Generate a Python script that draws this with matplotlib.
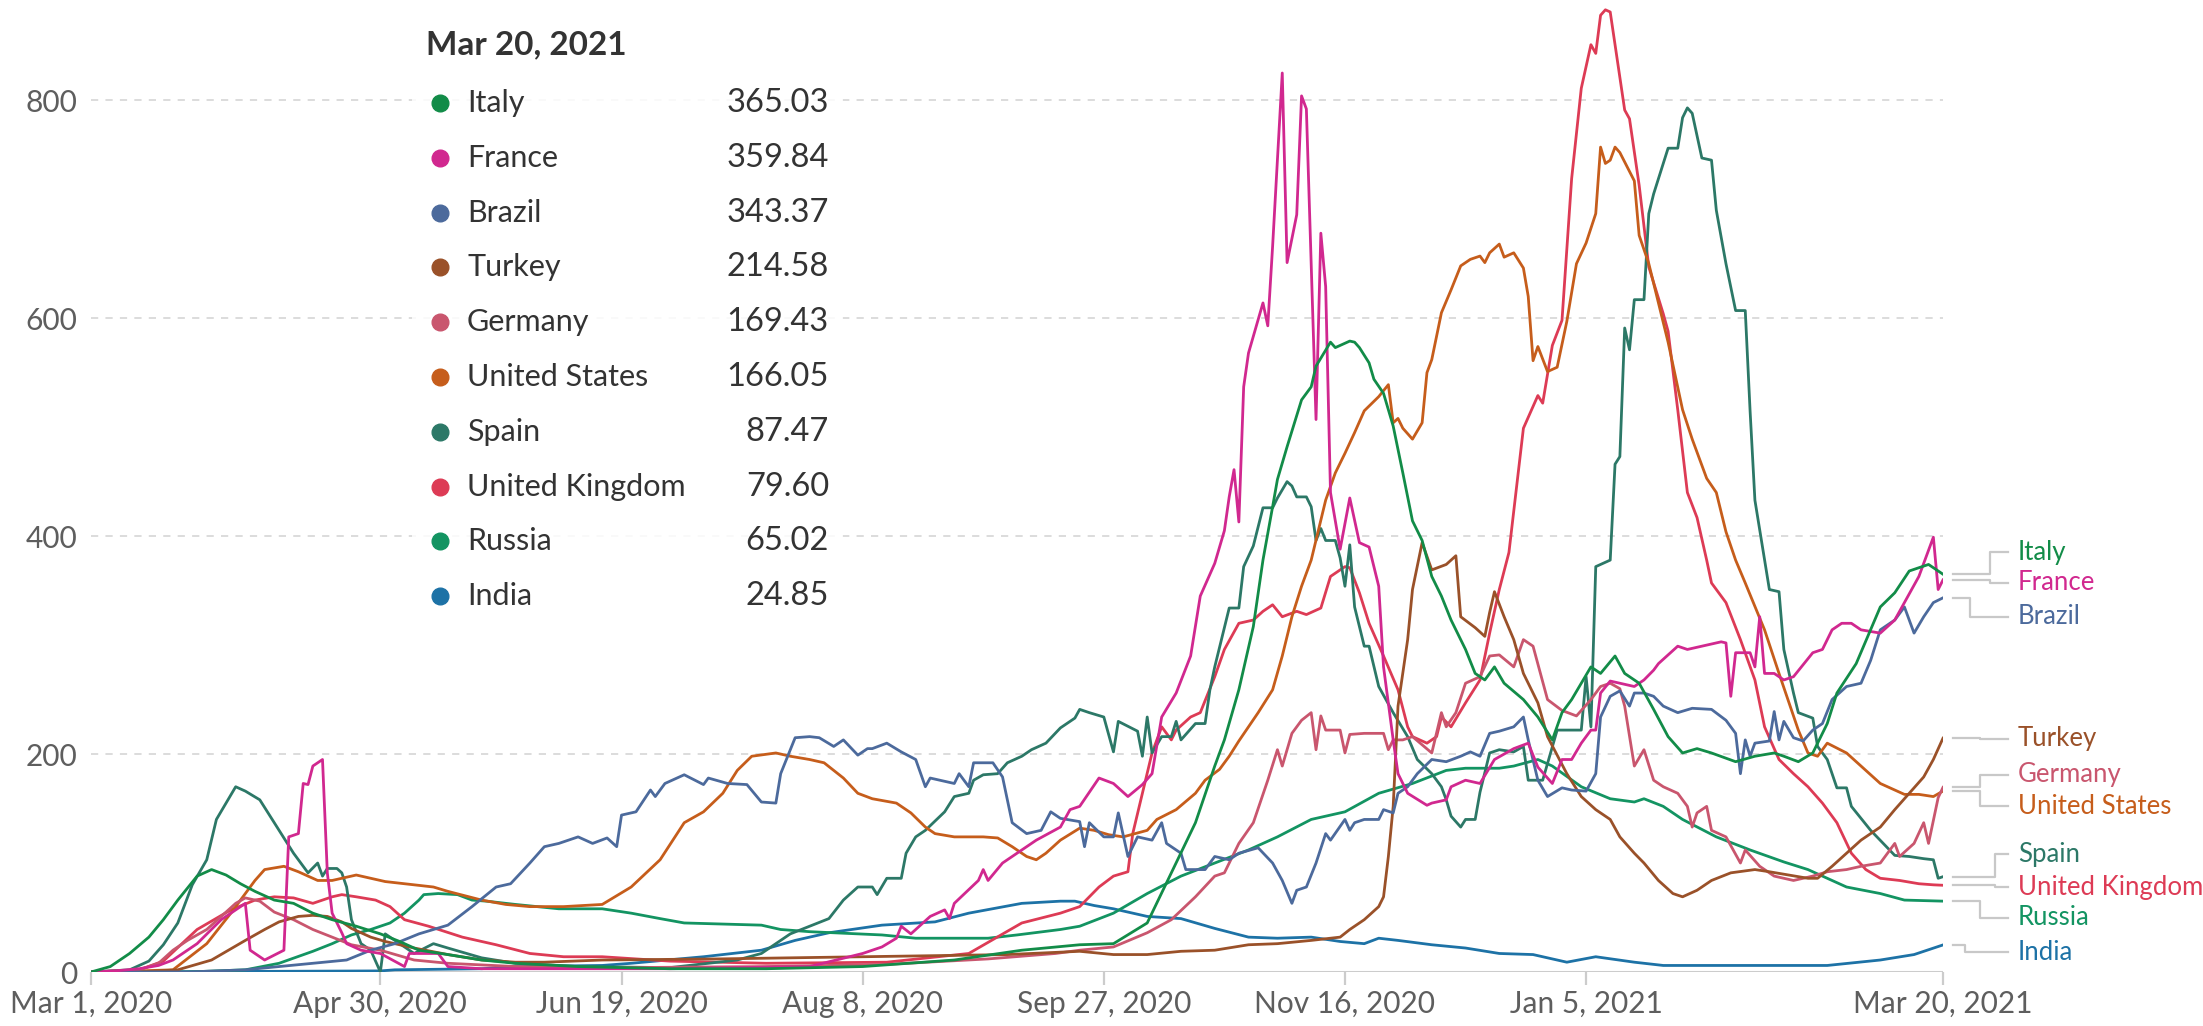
import numpy as np
import matplotlib
matplotlib.use("Agg")
import matplotlib.pyplot as plt
from matplotlib.patches import Rectangle
from matplotlib.lines import Line2D

plt.rcParams['font.family'] = ['Lato', 'DejaVu Sans']

START = np.datetime64("2020-03-01")
LAST_DATE = "Mar 20, 2021"

# days since Mar 1, 2020 / values
italy_days = [0, 4, 8, 12, 15, 18, 22, 25, 28, 31,
              34, 38, 42, 46, 50, 55, 60, 64, 68, 74,
              81, 88, 101, 120, 140, 160, 179, 193, 205, 212,
              219, 224, 229, 233, 235, 238, 241, 243, 245, 246,
              248, 251, 253, 254, 257, 258, 261, 262, 263, 265,
              266, 268, 270, 272, 274, 276, 278, 280, 282, 285,
              287, 289, 291, 293, 297, 300, 303, 305, 307, 311,
              313, 316, 318, 321, 324, 327, 330, 333, 336, 341,
              345, 349, 351, 354, 357, 360, 362, 366, 371, 374,
              377, 381, 384]
italy_vals = [0, 5, 17, 32, 48, 66, 88, 94, 89, 81,
              74, 66, 63, 54, 48, 42, 35, 28, 20, 16,
              11, 8, 5, 3, 3, 5, 11, 20, 25, 26,
              45, 91, 137, 189, 213, 259, 317, 378, 427, 452,
              482, 525, 537, 556, 578, 573, 579, 578, 573, 559,
              544, 531, 501, 458, 414, 396, 363, 345, 323, 296,
              274, 268, 280, 265, 250, 234, 213, 238, 250, 280,
              274, 290, 274, 265, 241, 216, 201, 205, 201, 193,
              198, 201, 198, 193, 201, 228, 256, 283, 335, 348,
              368, 374, 365.03]

france_days = [0, 5, 10, 14, 17, 22, 27, 31, 32, 33,
               36, 40, 41, 43, 44, 45, 46, 47, 48, 49,
               50, 52, 53, 56, 60, 65, 66, 72, 74, 81,
               100, 120, 149, 160, 164, 167, 168, 170, 174, 177,
               178, 179, 184, 185, 186, 189, 193, 196, 201, 203,
               205, 209, 212, 215, 218, 220, 222, 225, 228, 230,
               233, 235, 236, 237, 238, 239, 240, 243, 244, 245,
               247, 248, 250, 251, 252, 254, 255, 256, 257, 259,
               261, 263, 265, 267, 268, 270, 271, 273, 277, 278,
               281, 282, 285, 288, 291, 295, 298, 300, 303, 305,
               307, 309, 311, 312, 313, 315, 317, 320, 322, 324,
               325, 329, 331, 335, 338, 339, 340, 341, 344, 345,
               346, 347, 349, 351, 353, 357, 359, 361, 363, 365,
               367, 371, 374, 376, 379, 382, 383, 384]
france_vals = [0, 1, 3, 6, 11, 26, 48, 60, 63, 20,
               11, 20, 124, 127, 173, 172, 189, 192, 195, 91,
               54, 36, 26, 20, 17, 5, 17, 17, 5, 3,
               3, 3, 5, 17, 23, 31, 42, 35, 51, 57,
               49, 63, 84, 94, 84, 100, 112, 121, 133, 149,
               152, 178, 173, 161, 172, 182, 234, 256, 290, 345,
               375, 405, 436, 461, 413, 537, 568, 614, 593, 666,
               825, 651, 695, 804, 792, 507, 678, 629, 440, 388,
               435, 394, 390, 354, 280, 213, 182, 164, 153, 155,
               158, 170, 176, 173, 195, 205, 210, 188, 173, 195,
               195, 210, 222, 222, 256, 267, 265, 262, 268, 277,
               283, 299, 296, 300, 303, 302, 253, 293, 293, 280,
               326, 274, 274, 268, 271, 293, 296, 314, 320, 320,
               314, 311, 323, 339, 363, 399, 351, 359.84]

brazil_days = [0, 20, 32, 46, 53, 58, 63, 68, 74, 79,
               84, 87, 91, 94, 97, 101, 104, 107, 109, 110,
               113, 116, 117, 119, 123, 127, 128, 132, 136, 139,
               142, 143, 146, 149, 151, 154, 156, 159, 161, 162,
               165, 168, 171, 173, 174, 179, 180, 182, 183, 187,
               189, 191, 194, 197, 199, 201, 205, 206, 207, 210,
               212, 213, 215, 217, 220, 222, 223, 226, 227, 231,
               233, 236, 238, 242, 245, 247, 249, 250, 252, 254,
               256, 257, 260, 261, 262, 264, 267, 268, 270, 271,
               273, 275, 278, 281, 284, 286, 288, 290, 292, 295,
               297, 298, 300, 302, 305, 307, 310, 312, 313, 315,
               317, 319, 320, 322, 324, 326, 329, 332, 336, 339,
               341, 342, 343, 344, 345, 348, 349, 350, 351, 353,
               355, 357, 359, 361, 364, 367, 369, 371, 374, 376,
               378, 380, 382, 384]
brazil_vals = [0, 0, 2, 8, 11, 20, 26, 35, 43, 60,
               78, 81, 100, 115, 118, 124, 118, 123, 115, 144,
               147, 167, 161, 173, 181, 172, 178, 173, 172, 156,
               155, 182, 215, 216, 215, 207, 213, 199, 205, 205,
               210, 202, 195, 170, 178, 173, 182, 170, 192, 192,
               179, 137, 127, 130, 147, 141, 138, 115, 137, 124,
               124, 146, 106, 124, 121, 137, 118, 109, 94, 94,
               106, 103, 109, 114, 100, 84, 63, 75, 78, 100,
               127, 121, 140, 130, 137, 140, 140, 149, 146, 164,
               170, 182, 195, 193, 198, 202, 198, 219, 221, 225,
               234, 213, 176, 161, 169, 167, 166, 182, 234, 253,
               258, 244, 256, 256, 253, 244, 238, 242, 241, 231,
               219, 182, 213, 198, 210, 212, 239, 213, 230, 215,
               212, 222, 228, 250, 262, 265, 286, 314, 323, 335,
               311, 326, 339, 343.37]

turkey_days = [0, 10, 18, 25, 32, 36, 39, 43, 46, 49,
               52, 54, 58, 61, 67, 74, 81, 88, 94, 106,
               130, 160, 190, 205, 212, 219, 226, 233, 240, 246,
               253, 259, 261, 264, 267, 268, 269, 270, 271, 273,
               274, 276, 278, 281, 283, 284, 287, 289, 290, 291,
               293, 295, 297, 300, 302, 306, 309, 312, 315, 317,
               320, 322, 325, 328, 330, 333, 336, 340, 345, 348,
               352, 356, 358, 361, 364, 367, 371, 374, 377, 380,
               382, 384]
turkey_vals = [0, 0, 2, 11, 29, 39, 46, 51, 52, 51,
               46, 40, 32, 28, 22, 16, 11, 9, 9, 11,
               12, 14, 16, 19, 16, 16, 19, 20, 25, 26,
               29, 32, 39, 48, 60, 69, 106, 152, 244, 305,
               351, 394, 369, 374, 382, 326, 316, 308, 330, 349,
               326, 305, 274, 247, 216, 182, 161, 149, 140, 124,
               109, 100, 84, 72, 69, 75, 84, 91, 94, 92,
               89, 86, 86, 97, 109, 121, 133, 149, 164, 179,
               195, 214.58]

germany_days = [0, 10, 14, 17, 20, 24, 27, 30, 32, 35,
                38, 42, 46, 50, 54, 60, 67, 74, 88, 110,
                140, 165, 186, 200, 205, 212, 219, 224, 229, 233,
                235, 238, 241, 244, 246, 247, 249, 251, 253, 254,
                255, 256, 259, 260, 261, 264, 268, 269, 270, 272,
                274, 278, 280, 281, 283, 285, 288, 290, 292, 295,
                297, 299, 302, 305, 308, 311, 313, 315, 317, 318,
                320, 322, 324, 326, 329, 331, 332, 333, 335, 336,
                339, 342, 343, 346, 349, 353, 357, 360, 364, 367,
                371, 374, 375, 378, 380, 381, 383, 384]
germany_vals = [0, 2, 8, 20, 29, 39, 51, 63, 68, 65,
                55, 48, 39, 32, 25, 20, 11, 8, 5, 4,
                5, 7, 12, 17, 20, 23, 36, 48, 69, 88,
                91, 118, 137, 176, 204, 189, 219, 231, 238, 204,
                235, 222, 222, 201, 218, 219, 219, 204, 213, 213,
                216, 201, 238, 225, 238, 265, 271, 290, 291, 280,
                305, 299, 250, 240, 235, 250, 262, 265, 260, 244,
                189, 204, 176, 170, 164, 152, 133, 146, 152, 130,
                124, 100, 112, 97, 88, 84, 88, 92, 94, 97,
                100, 118, 106, 118, 137, 118, 160, 169.43]

us_days = [0, 10, 17, 24, 29, 34, 36, 40, 43, 47,
           50, 55, 58, 61, 67, 71, 74, 81, 86, 91,
           98, 106, 112, 118, 123, 127, 131, 134, 137, 142,
           145, 149, 152, 156, 159, 162, 167, 170, 173, 175,
           179, 185, 188, 191, 194, 196, 198, 201, 205, 208,
           211, 214, 219, 221, 225, 229, 231, 234, 236, 238,
           242, 245, 247, 249, 251, 253, 256, 258, 260, 262,
           264, 267, 269, 270, 271, 272, 274, 276, 277, 278,
           280, 282, 284, 286, 288, 289, 290, 292, 293, 295,
           297, 298, 299, 300, 302, 304, 306, 308, 310, 312,
           313, 314, 315, 316, 317, 320, 321, 323, 327, 330,
           332, 335, 337, 339, 341, 343, 347, 350, 354, 356,
           358, 360, 364, 367, 371, 374, 376, 379, 382, 384]
us_vals = [0, 1, 2, 26, 54, 84, 94, 97, 92, 84,
           84, 89, 86, 83, 80, 78, 74, 66, 62, 60,
           60, 62, 78, 103, 137, 147, 164, 185, 198, 201,
           198, 195, 192, 178, 164, 159, 155, 146, 133, 127,
           124, 124, 123, 115, 106, 103, 109, 121, 132, 130,
           126, 124, 130, 140, 149, 164, 176, 186, 198, 212,
           238, 259, 290, 326, 354, 378, 433, 458, 476, 495,
           515, 528, 539, 504, 508, 499, 489, 504, 550, 562,
           605, 626, 648, 654, 657, 651, 660, 668, 656, 660,
           646, 620, 561, 574, 551, 555, 597, 650, 669, 696,
           757, 742, 745, 757, 752, 726, 676, 650, 578, 516,
           489, 453, 440, 404, 378, 357, 314, 274, 222, 201,
           198, 210, 201, 189, 173, 167, 163, 163, 161, 166.05]

spain_days = [0, 8, 12, 15, 18, 21, 24, 26, 28, 30,
              32, 35, 38, 42, 45, 47, 48, 49, 51, 52,
              53, 54, 56, 58, 60, 61, 63, 67, 71, 74,
              81, 88, 101, 120, 134, 139, 145, 149, 153, 156,
              159, 162, 163, 165, 168, 169, 171, 173, 177, 179,
              182, 183, 185, 188, 190, 193, 195, 198, 201, 204,
              205, 207, 210, 212, 213, 217, 218, 219, 220, 222,
              224, 225, 226, 229, 231, 232, 233, 236, 238, 239,
              241, 243, 245, 246, 248, 249, 250, 252, 253, 254,
              255, 256, 258, 259, 260, 261, 262, 264, 265, 267,
              270, 273, 275, 278, 280, 281, 282, 284, 285, 287,
              288, 290, 292, 295, 297, 298, 301, 304, 309, 310,
              311, 312, 315, 316, 317, 318, 319, 320, 322, 323,
              324, 326, 327, 329, 330, 331, 332, 334, 336, 337,
              339, 341, 343, 344, 345, 347, 348, 350, 351, 353,
              354, 357, 358, 360, 362, 364, 365, 369, 374, 377,
              380, 382, 383, 384]
spain_vals = [0, 2, 10, 25, 45, 80, 103, 140, 155, 170,
              166, 158, 137, 109, 91, 100, 88, 95, 95, 91,
              78, 48, 26, 20, 0, 35, 29, 17, 26, 22,
              13, 8, 5, 4, 11, 17, 35, 42, 49, 66,
              78, 78, 71, 86, 86, 109, 124, 130, 147, 161,
              164, 176, 181, 182, 192, 198, 204, 210, 224, 233,
              241, 238, 234, 202, 230, 221, 198, 234, 201, 216,
              216, 230, 213, 228, 228, 259, 280, 334, 334, 372,
              391, 426, 426, 435, 450, 446, 436, 436, 427, 396,
              407, 396, 396, 380, 354, 392, 335, 299, 299, 262,
              238, 216, 195, 182, 170, 158, 143, 133, 140, 140,
              165, 201, 204, 202, 207, 176, 176, 222, 222, 271,
              225, 372, 378, 466, 473, 591, 571, 617, 617, 696,
              714, 742, 756, 756, 784, 793, 788, 747, 745, 699,
              650, 607, 607, 515, 433, 378, 351, 349, 296, 256,
              238, 233, 207, 195, 169, 169, 152, 130, 107, 106,
              104, 103, 86, 87.47]

uk_days = [0, 10, 15, 22, 29, 34, 38, 42, 46, 50,
           52, 55, 59, 62, 65, 70, 77, 84, 91, 98,
           106, 120, 140, 165, 182, 193, 201, 205, 209, 212,
           215, 216, 218, 220, 222, 224, 225, 228, 230, 233,
           235, 238, 241, 243, 245, 247, 250, 252, 255, 257,
           260, 261, 263, 265, 268, 271, 273, 274, 277, 279,
           280, 282, 285, 288, 290, 292, 294, 297, 300, 301,
           303, 305, 307, 309, 311, 312, 313, 314, 315, 318,
           319, 321, 323, 326, 327, 329, 331, 333, 335, 336,
           339, 342, 345, 347, 350, 353, 356, 359, 362, 365,
           368, 371, 375, 379, 382, 384]
uk_vals = [0, 2, 10, 39, 57, 66, 69, 68, 63, 69,
           71, 69, 66, 60, 48, 42, 32, 25, 17, 14,
           14, 10, 8, 9, 17, 45, 54, 60, 78, 88,
           92, 127, 164, 201, 225, 213, 222, 234, 238, 271,
           296, 320, 323, 331, 337, 326, 331, 328, 334, 363,
           372, 371, 348, 320, 290, 259, 225, 216, 210, 216,
           234, 225, 247, 268, 311, 351, 385, 499, 529, 522,
           575, 598, 728, 811, 851, 843, 878, 883, 881, 791,
           783, 722, 647, 604, 588, 516, 440, 417, 378, 357,
           339, 305, 268, 225, 195, 182, 170, 155, 137, 109,
           94, 86, 84, 81, 80, 79.60]

russia_days = [0, 20, 32, 39, 46, 50, 54, 58, 62, 65,
               68, 69, 72, 76, 79, 82, 88, 97, 106, 112,
               118, 123, 139, 143, 149, 164, 171, 186, 192, 201,
               205, 212, 219, 226, 233, 240, 246, 253, 260, 267,
               274, 281, 285, 292, 295, 300, 303, 309, 315, 320,
               322, 326, 330, 337, 344, 351, 356, 361, 364, 371,
               376, 384]
russia_vals = [0, 0, 2, 8, 19, 26, 34, 39, 45, 54,
               66, 71, 72, 71, 66, 65, 62, 58, 58, 54,
               49, 45, 43, 39, 37, 34, 31, 31, 34, 39,
               42, 54, 72, 88, 100, 112, 124, 140, 147, 164,
               173, 185, 187, 187, 189, 195, 189, 170, 159, 156,
               159, 152, 140, 124, 112, 101, 94, 84, 78, 72,
               66, 65.02]

india_days = [0, 60, 63, 81, 88, 106, 112, 127, 139, 146,
              153, 164, 175, 182, 193, 201, 204, 208, 212, 219,
              226, 233, 240, 246, 253, 259, 264, 267, 271, 278,
              285, 292, 299, 306, 312, 320, 326, 344, 360, 371,
              378, 384]
india_vals = [0, 1, 2, 3, 5, 6, 8, 14, 20, 29,
              36, 43, 46, 54, 63, 65, 65, 61, 58, 51,
              49, 40, 32, 31, 32, 28, 26, 31, 29, 25,
              22, 17, 16, 9, 14, 9, 6, 6, 6, 11,
              16, 24.85]

tick_dates = ["2020-03-01", "2020-04-30", "2020-06-19", "2020-08-08",
              "2020-09-27", "2020-11-16", "2021-01-05", "2021-03-20"]
tick_labels = ["Mar 1, 2020", "Apr 30, 2020", "Jun 19, 2020", "Aug 8, 2020",
               "Sep 27, 2020", "Nov 16, 2020", "Jan 5, 2021", "Mar 20, 2021"]

series = [
    ("Italy", italy_days, italy_vals, "#128c48"),
    ("France", france_days, france_vals, "#d1288f"),
    ("Brazil", brazil_days, brazil_vals, "#4c6a9c"),
    ("Turkey", turkey_days, turkey_vals, "#9a5129"),
    ("Germany", germany_days, germany_vals, "#c9566e"),
    ("United States", us_days, us_vals, "#c65d1b"),
    ("Spain", spain_days, spain_vals, "#2c7867"),
    ("United Kingdom", uk_days, uk_vals, "#dd3b55"),
    ("Russia", russia_days, russia_vals, "#139462"),
    ("India", india_days, india_vals, "#1d72a6"),
]

# end-label layout (y in data units, elbow x in days)
label_y = {"Italy": 385, "France": 357, "Brazil": 326, "Turkey": 214,
           "Germany": 181, "United States": 152, "Spain": 108,
           "United Kingdom": 78, "Russia": 50, "India": 18}
elbow_x = {"Italy": 393.7, "France": 393.7, "Brazil": 389.6, "Turkey": 391.7,
           "Germany": 391.7, "United States": 391.7, "Spain": 394.8,
           "United Kingdom": 394.8, "Russia": 391.7, "India": 388.6}

W, H = 2203, 1026
fig = plt.figure(figsize=(W / 100, H / 100), dpi=100)
ax = fig.add_axes([91 / W, 54 / H, 1852 / W, 972 / H])

for name, d, v, c in series[::-1]:
    ax.plot(d, v, color=c, lw=2.0, solid_joinstyle='round', zorder=3)

ax.set_xlim(0, 384)
ax.set_ylim(0, 892)
ticks = (np.array(tick_dates, dtype='datetime64[D]') - START).astype(int)
ax.set_xticks(ticks)
ax.set_xticklabels(tick_labels)
ax.set_yticks([0, 200, 400, 600, 800])
ax.grid(axis='y', color='#d9d9d9', linestyle=(0, (4, 4)), lw=1.3, zorder=1)
for s in ax.spines.values():
    s.set_visible(False)
ax.axhline(0, color='#cccccc', lw=2.2, zorder=2)
ax.tick_params(axis='x', length=9, width=1.6, color='#cccccc', labelsize=21.5,
               labelcolor='#5e5e5e', pad=4)
ax.tick_params(axis='y', length=0, labelsize=21.5, labelcolor='#5e5e5e', pad=10)

# end labels with connectors
for name, d, v, c in series:
    y0 = v[-1]
    y1 = label_y[name]
    ex = elbow_x[name]
    ax.plot([386.1, ex, ex, 397.5], [y0, y0, y1, y1], color='#c8c8c8', lw=1.6,
            clip_on=False, zorder=2)
    ax.text(399.5, y1, name, color=c, fontsize=18.5, va='center', ha='left',
            clip_on=False)

# hover-style legend box
def fx(px):
    return px / W

def fy(py):
    return 1 - py / H

box = Rectangle((fx(412), fy(639)), 431 / W, 628 / H, transform=fig.transFigure,
                facecolor='white', edgecolor='none', alpha=0.86, zorder=5)
fig.patches.append(box)
fig.text(fx(426), fy(45), LAST_DATE, fontsize=24, fontweight='bold',
         color='#333333', va='center', ha='left', zorder=6)
order = sorted(series, key=lambda s: -s[2][-1])
for i, (name, d, v, c) in enumerate(order):
    yy = fy(103 + 54.8 * i)
    fig.add_artist(Line2D([fx(440)], [yy], marker='o', markersize=12, color=c,
                          transform=fig.transFigure, zorder=6))
    fig.text(fx(467), yy, name, fontsize=22, color='#333333', va='center',
             ha='left', zorder=6)
    fig.text(fx(829), yy, f"{v[-1]:.2f}", fontsize=23.5, color='#333333',
             va='center', ha='right', zorder=6)

fig.savefig("out.png", dpi=100)
